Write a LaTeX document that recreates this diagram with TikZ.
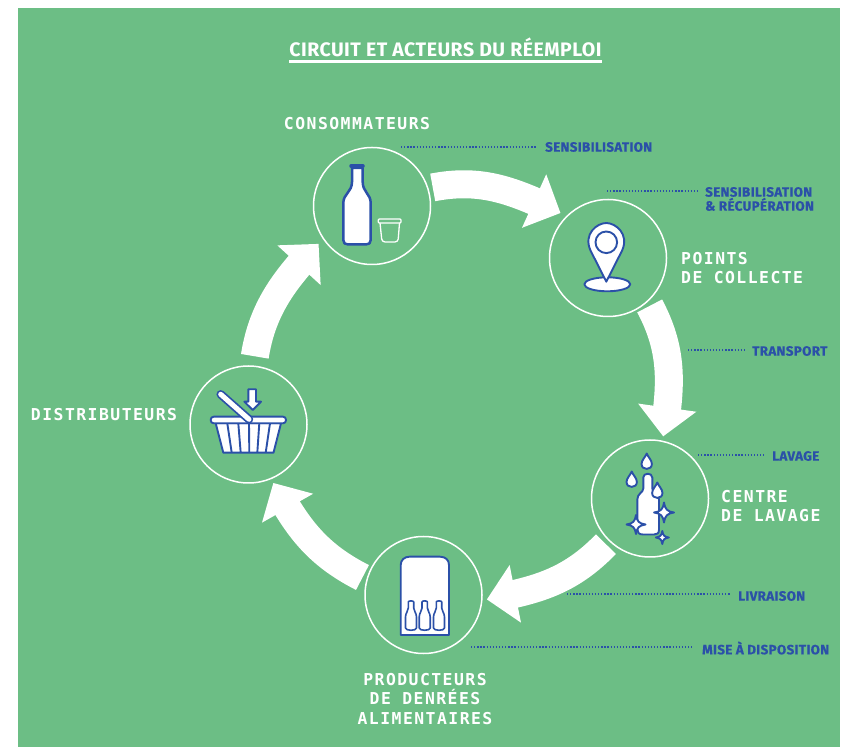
\documentclass[tikz,border=0pt]{standalone}
\usepackage{fontspec}
\usepackage{tikz}
\usetikzlibrary{arrows.meta,bending}
\setmainfont{Fira Sans}
\newfontfamily\fontmono[LetterSpace=9]{DejaVu Sans Mono}
\newfontfamily\fonttitre[LetterSpace=2.5]{Fira Sans}
\newfontfamily\fontaction[BoldFeatures={FakeBold=0.4,LetterSpace=2.5}]{Fira Sans}
\definecolor{vert}{HTML}{6CBE85}
\definecolor{bleu}{HTML}{2B50A8}
\tikzset{
	station/.style={shape=circle,draw=white,line width=1.5pt,minimum size=117pt,inner sep=0pt,outer sep=5pt},
	flow/.style={draw=white,line width=28pt,-{Triangle[width=57pt,length=29pt,flex]}},
	acteur/.style={text=white,inner sep=0pt,align=left,font=\fontmono\bfseries\fontsize{16.4}{19.5}\selectfont},
	action/.style={text=bleu,inner sep=0pt,anchor=west,align=left,font=\fontaction\bfseries\fontsize{13.4}{13}\selectfont},
	leader/.style={draw=bleu,line width=1.3pt,dash pattern=on 1.3pt off 1.8pt,shorten >=8pt},
	icone/.style={draw=bleu,fill=white,line width=1.9pt,line join=round}
}
\newcommand{\goutte}[1]{\draw[icone,shift={(#1)},scale=1.1] (0,0) .. controls (-1,3) and (-4.7,6) .. (-4.7,9.5) .. controls (-4.7,12.5) and (-2.5,14) .. (0,14) .. controls (2.5,14) and (4.7,12.5) .. (4.7,9.5) .. controls (4.7,6) and (1,3) .. (0,0) -- cycle;}
\newcommand{\etoile}[2]{\draw[icone,shift={(#1)},scale=#2] (0,-1) .. controls (.12,-.3) and (.3,-.12) .. (1,0) .. controls (.3,.12) and (.12,.3) .. (0,1) .. controls (-.12,.3) and (-.3,.12) .. (-1,0) .. controls (-.3,-.12) and (-.12,-.3) .. (0,-1) -- cycle;}
\newcommand{\fiole}[1]{\draw[icone,line width=1.6pt,shift={(#1,0)}] (-2.7,7) .. controls (-2.7,5.5) and (2.7,5.5) .. (2.7,7) -- (2.7,13) .. controls (2.7,16) and (5.5,18) .. (5.5,22) -- (5.5,33) .. controls (5.5,36) and (-5.5,36) .. (-5.5,33) -- (-5.5,22) .. controls (-5.5,18) and (-2.7,16) .. (-2.7,13) -- cycle;}
\begin{document}
\begin{tikzpicture}[x=1pt,y=1pt]
	\useasboundingbox (0,0) rectangle (843,747);
	\fill[vert] (18,0) rectangle (840,739);

	\node[station] (c) at (372, 541)   {};
	\node[station] (p) at (608, 489)   {};
	\node[station] (l) at (650, 248.5) {};
	\node[station] (a) at (423.5, 152) {};
	\node[station] (d) at (248.5, 322.5) {};

	\path[flow,shorten >=2pt] (c.17) to[out=11,in=155] (p.136);
	\path[flow] (p.-49) to[out=-62,in=81] (l.78);
	\path[flow] (l.226) to[out=226,in=10] (a.-4);
	\path[flow] (a.164) to[out=153,in=-62] (d.-67);
	\path[flow,shorten <=5pt,shorten >=2pt] (d.85) to[out=81,in=226] (c.215);

	\node[text=white,inner sep=0pt,font=\fonttitre\bfseries\fontsize{19.5}{20}\selectfont] (titre) at (445.5, 700) {CIRCUIT ET ACTEURS DU RÉEMPLOI};
	\draw[white,line width=3.5pt] ([yshift=-5pt]titre.south west) -- ([yshift=-5pt]titre.south east);

	\node[acteur] (nc) at (357, 623) {CONSOMMATEURS};
	\node[acteur,anchor=west] (np) at (681, 479) {POINTS\\DE COLLECTE};
	\node[acteur,anchor=west] (nl) at (721, 241) {CENTRE\\DE LAVAGE};
	\node[acteur,align=center] (na) at (425, 48) {PRODUCTEURS\\DE DENRÉES\\ALIMENTAIRES};
	\node[acteur] (nd) at (104, 332) {DISTRIBUTEURS};

	\node[action] (t1) at (545, 600)   {SENSIBILISATION};
	\node[action] (t2) at (705, 548)   {SENSIBILISATION\\\& RÉCUPÉRATION};
	\node[action] (t3) at (752, 396)   {TRANSPORT};
	\node[action] (t4) at (772, 291)   {LAVAGE};
	\node[action] (t5) at (738, 151)   {LIVRAISON};
	\node[action] (t6) at (702, 99)    {MISE À DISPOSITION};

	\coordinate (e1) at (401, 600);
	\coordinate (e2) at (607, 556);
	\coordinate (e3) at (688, 397);
	\coordinate (e4) at (698, 292);
	\coordinate (e5) at (567, 153);
	\coordinate (e6) at (471, 100);
	\draw[leader] (e1) -- (e1 -| t1.west);
	\draw[leader] (e2) -- (e2 -| t2.west);
	\draw[leader] (e3) -- (e3 -| t3.west);
	\draw[leader] (e4) -- (e4 -| t4.west);
	\draw[leader] (e5) -- (e5 -| t5.west);
	\draw[leader] (e6) -- (e6 -| t6.west);

	\begin{scope}[shift={(c)},yscale=-1]
		\draw[icone,line width=2.5pt] (-20,-38) -- (-20,-24) .. controls (-20,-14) and (-28.7,-12) .. (-28.7,-3) -- (-28.7,34) .. controls (-28.7,37) and (-27,38.5) .. (-24,38.5) -- (-6,38.5) .. controls (-3,38.5) and (-1.3,37) .. (-1.3,34) -- (-1.3,-3) .. controls (-1.3,-12) and (-9.3,-14) .. (-9.3,-24) -- (-9.3,-38) -- cycle;
		\draw[bleu,line width=3.5pt,line cap=round] (-21,-40) -- (-9,-40);
		\draw[white,line width=1.3pt,rounded corners=1pt] (6.3,13) rectangle (29,17);
		\draw[white,line width=1.3pt,rounded corners=3pt] (8,17) -- (10,36) -- (26,36) -- (27.5,17);
	\end{scope}

	\begin{scope}[shift={(p)},yscale=-1]
		\draw[icone] (-0.7,26.3) ellipse (23 and 7);
		\draw[icone] (-1.7,23.7) -- (-17.5,-7.5) .. controls (-25,-24) and (-11,-35) .. (-1.7,-35) .. controls (7.6,-35) and (21.5,-24) .. (14.1,-7.5) -- cycle;
		\draw[icone] (-1.7,-15.7) circle (10.8);
	\end{scope}

	\begin{scope}[shift={(l)},yscale=-1]
		\draw[icone] (-6.7,-21) .. controls (-6.7,-26) and (2.3,-26) .. (2.3,-21) -- (2.3,-10) .. controls (2.3,-6) and (9,-5) .. (9,1) -- (9,31) .. controls (9,35) and (7,36) .. (4,36) -- (-7,36) .. controls (-11,36) and (-12.7,34) .. (-12.7,31) -- (-12.7,1) .. controls (-12.7,-5) and (-6.7,-6) .. (-6.7,-10) -- cycle;
		\goutte{-3.3,-45}
		\goutte{-18.3,-27}
		\goutte{7.3,-16}
		\etoile{14,14}{10}
		\etoile{-14,26}{9.5}
		\etoile{12.3,39}{6.5}
	\end{scope}

	\begin{scope}[shift={(a)},yscale=-1]
		\draw[icone] (-22.8,40) -- (-22.8,-30) .. controls (-22.8,-35) and (-19,-38.3) .. (-14,-38.3) -- (16.5,-38.3) .. controls (22,-38.3) and (25.5,-35) .. (25.5,-30) -- (25.5,40) -- cycle;
		\fiole{-12.5}
		\fiole{1.2}
		\fiole{15.5}
	\end{scope}

	\begin{scope}[shift={(d)},yscale=-1]
		\draw[icone] (-0.2,-35.2) -- (7.5,-35.2) -- (7.5,-22.8) -- (12.5,-22.8) -- (4.2,-14.5) -- (-4.2,-22.8) -- (-0.2,-22.8) -- cycle;
		\draw[icone] (-32.8,-1.2) -- (-25.2,28.2) -- (25,28.2) -- (32.5,-1.2) -- cycle;
		\draw[bleu,line width=1.9pt] (-21.2,-1.2) -- (-16.8,28.2);
		\draw[bleu,line width=1.9pt] (-10.2,-1.2) -- (-7.8,28.2);
		\draw[bleu,line width=1.9pt] (0.5,-1.2) -- (0.8,28.2);
		\draw[bleu,line width=1.9pt] (10.8,-1.2) -- (8.8,28.2);
		\draw[bleu,line width=1.9pt] (21.5,-1.2) -- (17.2,28.2);
		\draw[icone,rounded corners=3pt] (-37.8,-7.8) rectangle (37.5,-1.2);
		\draw[bleu,line width=8.5pt,line cap=round] (-27.8,-30.2) -- (0.5,-5.2);
		\draw[white,line width=5pt,line cap=round] (-27.8,-30.2) -- (0.5,-5.2);
	\end{scope}
\end{tikzpicture}
\end{document}
